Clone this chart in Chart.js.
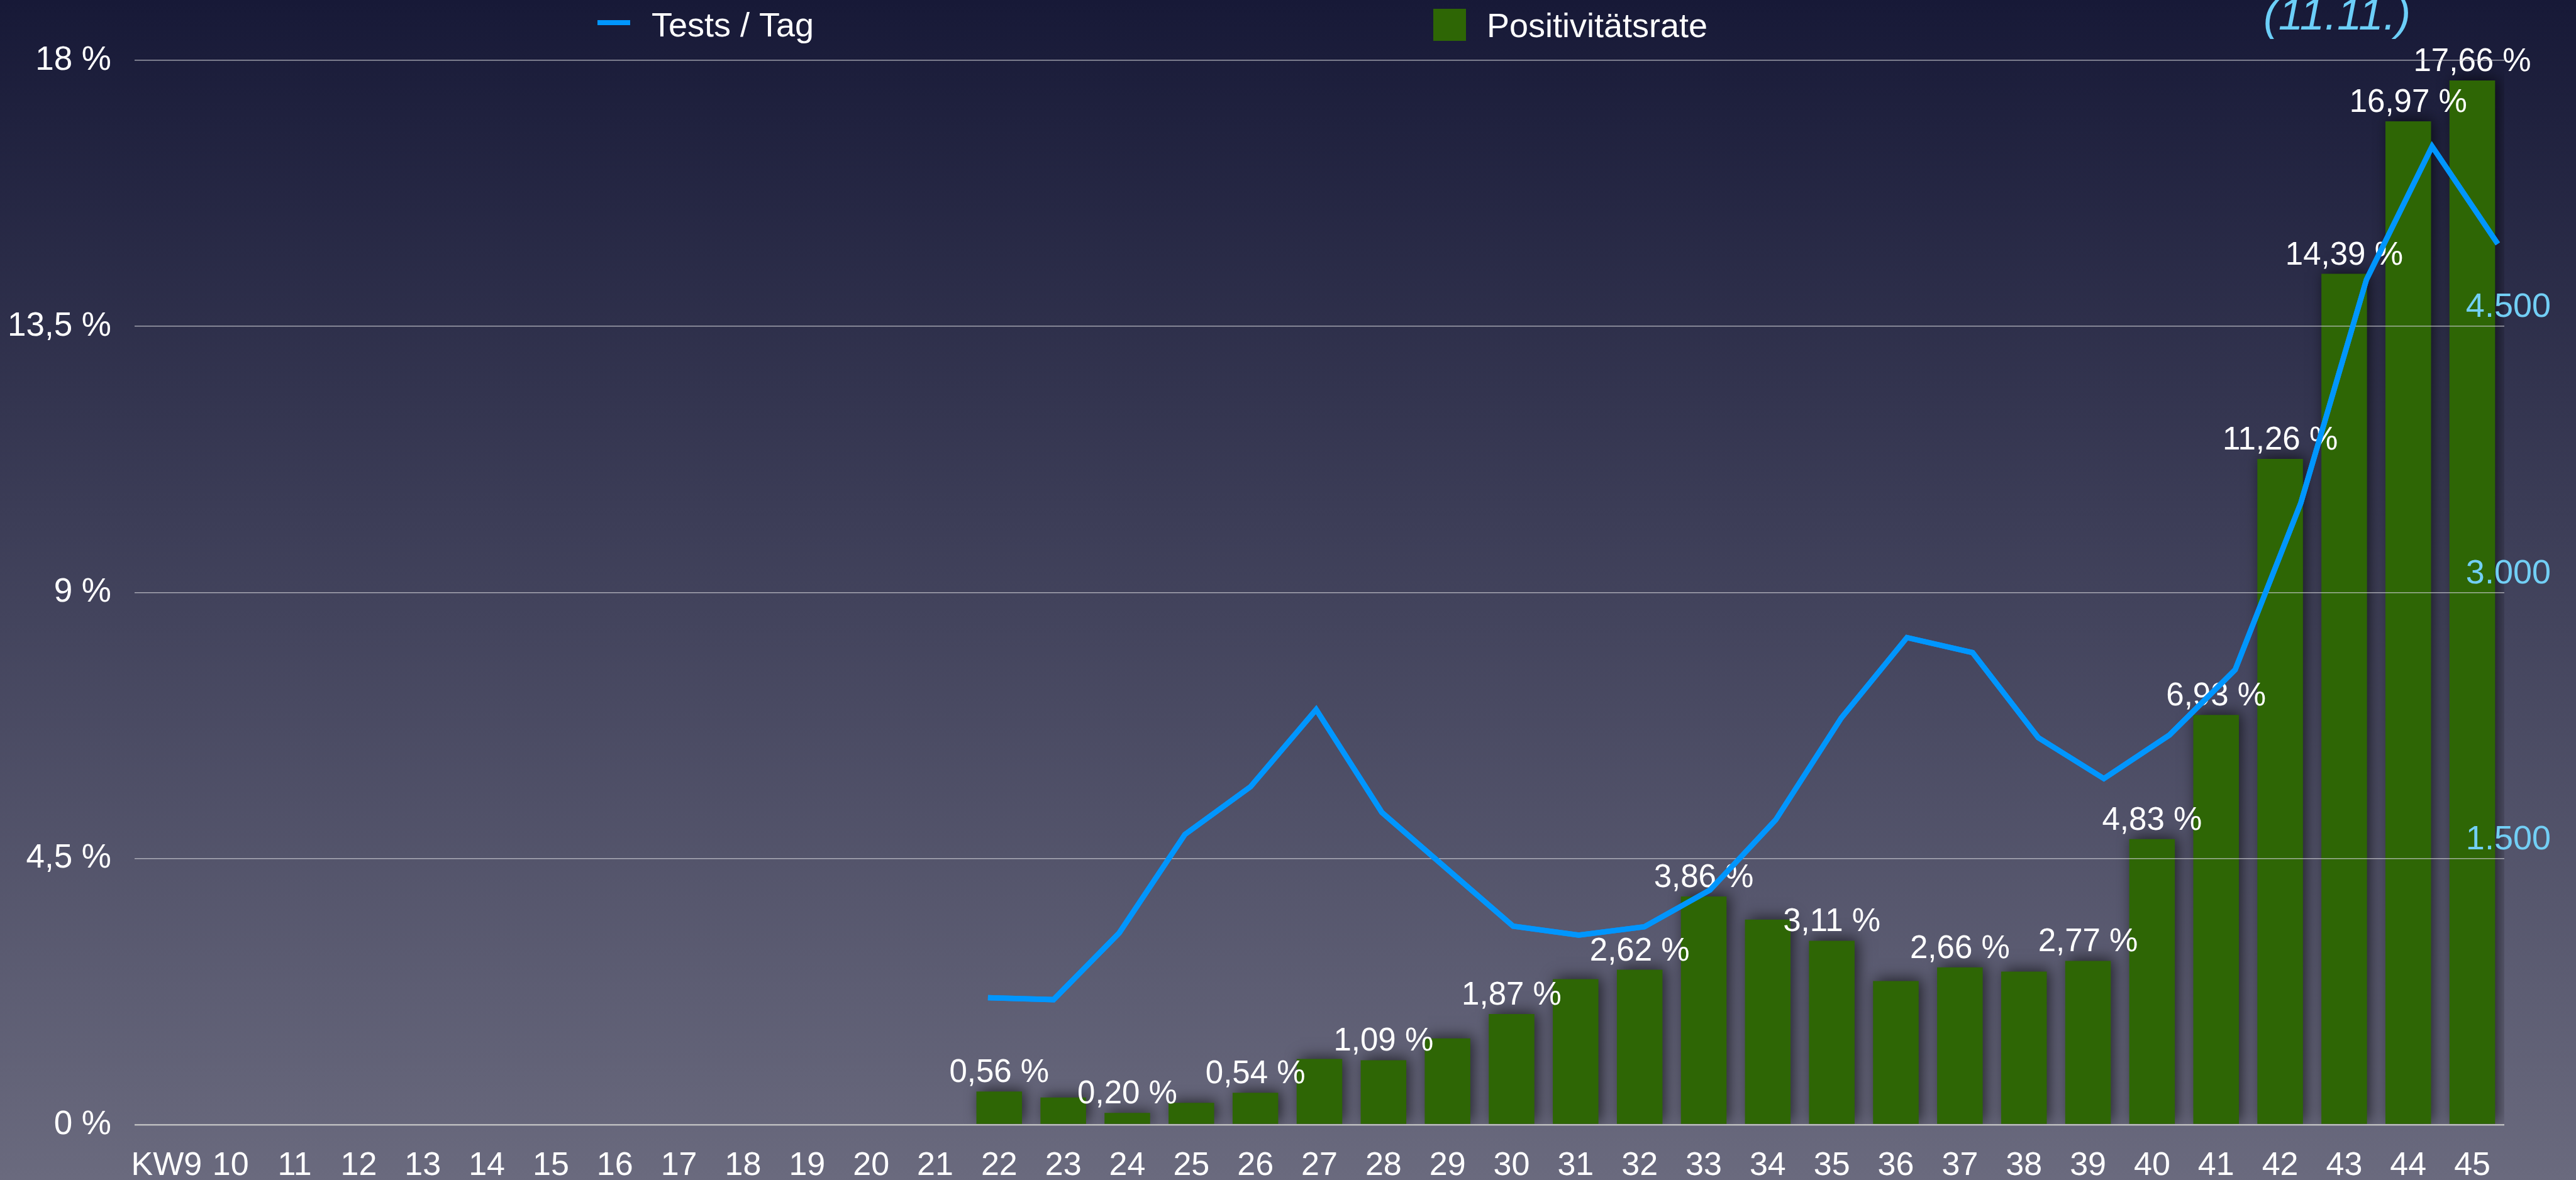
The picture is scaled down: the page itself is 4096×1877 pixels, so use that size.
<!DOCTYPE html>
<html>
<head>
<meta charset="utf-8">
<title>Tests / Tag und Positivitätsrate</title>
<script src="https://cdn.jsdelivr.net/npm/chart.js@4.4.0/dist/chart.umd.min.js"></script>
<style>
  html, body { margin: 0; padding: 0; }
  body {
    width: 4096px;
    height: 1877px;
    overflow: hidden;
    background: linear-gradient(to bottom, #171937 0%, #3c3d57 44%, #6a6a7e 100%);
  }
  #chart { display: block; }
</style>
</head>
<body>
<canvas id="chart" width="4096" height="1877"></canvas>
<script>
// Kalenderwochen
var weeks = ['KW9', '10', '11', '12', '13', '14', '15', '16', '17', '18', '19', '20', '21',
  '22', '23', '24', '25', '26', '27', '28', '29', '30', '31', '32', '33',
  '34', '35', '36', '37', '38', '39', '40', '41', '42', '43', '44', '45'];

// Positivitätsrate in % (KW9 - KW45)
var positivity = [null, null, null, null, null, null, null, null, null, null, null, null, null,
  0.56, 0.46, 0.20, 0.37, 0.54, 1.11, 1.09, 1.46, 1.87, 2.46, 2.62, 3.86,
  3.47, 3.11, 2.43, 2.66, 2.59, 2.77, 4.83, 6.93, 11.26, 14.39, 16.97, 17.66];

// Balken mit Beschriftung
var labelledWeeks = ['22', '24', '26', '28', '30', '32', '33', '35', '37', '39',
  '40', '41', '42', '43', '44', '45'];

// Tests pro Tag
var testWeeks = [22, 23, 24, 25, 26, 27, 28, 29, 30, 31, 32, 33,
  34, 35, 36, 37, 38, 39, 40, 41, 42, 43, 44, 45];
var testsPerDay = [716, 705, 1081, 1636, 1905, 2340, 1761, 1440, 1119, 1069, 1116, 1323,
  1718, 2293, 2746, 2661, 2182, 1951, 2197, 2565, 3505, 4764, 5515, 4966];

// Achsen
var yTicks = [0, 4.5, 9, 13.5, 18];
var rightTicks = [1500, 3000, 4500];
var dateNote = '(11.11.)';

var FONT = '"Helvetica Neue", Helvetica, "Liberation Sans", Arial, sans-serif';

function pct(v) {
  return String(v).replace('.', ',') + ' %';
}
function thousands(v) {
  return String(v).replace(/\B(?=(\d{3})+(?!\d))/g, '.');
}

// Schatten + Werte an den Balken
var barDecor = {
  id: 'barDecor',
  beforeDatasetDraw: function (chart, args) {
    if (args.meta.type !== 'bar') return;
    var c = chart.ctx;
    c.save();
    c.shadowColor = 'rgba(0, 0, 0, 0.62)';
    c.shadowBlur = 22;
    c.shadowOffsetX = 5;
    c.shadowOffsetY = -3;
  },
  afterDatasetDraw: function (chart, args) {
    if (args.meta.type !== 'bar') return;
    var c = chart.ctx;
    c.restore();
    c.save();
    c.font = '51px ' + FONT;
    c.fillStyle = '#ffffff';
    c.textAlign = 'center';
    c.textBaseline = 'alphabetic';
    args.meta.data.forEach(function (bar, i) {
      if (labelledWeeks.indexOf(weeks[i]) < 0 || positivity[i] == null) return;
      c.fillText(positivity[i].toFixed(2).replace('.', ',') + ' %', bar.x, bar.y - 15);
    });
    c.restore();
  }
};

// Linie über dem Gitter, Legende, rechte Achse, Datum
var overlay = {
  id: 'overlay',
  afterDraw: function (chart) {
    var c = chart.ctx;
    chart.getDatasetMeta(0).controller.draw();

    var line = chart.data.datasets[0];
    var bars = chart.data.datasets[1];
    c.save();
    c.font = '54px ' + FONT;
    c.textBaseline = 'alphabetic';
    c.textAlign = 'left';

    c.fillStyle = line.borderColor;
    c.fillRect(950, 32, 52, 8);
    c.fillStyle = '#ffffff';
    c.fillText(line.label, 1036, 58);

    c.fillStyle = bars.backgroundColor;
    c.fillRect(2279, 14, 52, 51);
    c.fillStyle = '#ffffff';
    c.fillText(bars.label, 2364, 59);

    var yr = chart.scales.yTests;
    c.fillStyle = '#72cff5';
    c.textAlign = 'right';
    rightTicks.forEach(function (v) {
      c.fillText(thousands(v), 4056, yr.getPixelForValue(v) - 15);
    });

    c.font = 'italic 71px ' + FONT;
    c.fillStyle = '#6ccff8';
    c.textAlign = 'left';
    c.fillText(dateNote, 3599, 47);
    c.restore();
  }
};

var ctx = document.getElementById('chart').getContext('2d');
var chart = new Chart(ctx, {
  type: 'bar',
  data: {
    labels: weeks,
    datasets: [{
      type: 'line',
      label: 'Tests / Tag',
      data: testWeeks.map(function (w, i) { return {x: w, y: testsPerDay[i]}; }),
      xAxisID: 'xLine',
      yAxisID: 'yTests',
      borderColor: '#0096fe',
      borderWidth: 8.5,
      borderJoinStyle: 'miter',
      pointRadius: 0,
      tension: 0,
      fill: false,
      order: 0
    }, {
      type: 'bar',
      label: 'Positivitätsrate',
      data: positivity,
      xAxisID: 'x',
      yAxisID: 'y',
      backgroundColor: '#2e6605',
      barPercentage: 0.712,
      categoryPercentage: 1,
      grouped: false,
      order: 1
    }]
  },
  options: {
    responsive: false,
    animation: false,
    layout: { padding: { top: 96, right: 114, left: 0, bottom: 0 } },
    plugins: {
      legend: { display: false },
      tooltip: { enabled: false }
    },
    scales: {
      x: {
        type: 'category',
        axis: 'x',
        position: 'bottom',
        offset: true,
        grid: { display: false },
        border: { display: false },
        ticks: {
          color: '#ffffff',
          font: { family: FONT, size: 52 },
          padding: 26,
          maxRotation: 0,
          autoSkip: false
        },
        afterFit: function (s) { s.height = 88; }
      },
      xLine: {
        type: 'linear',
        axis: 'x',
        position: 'bottom',
        display: false,
        offset: false,
        grid: { offset: false },
        bounds: 'data',
        min: 9,
        max: 45.1
      },
      y: {
        type: 'linear',
        position: 'left',
        min: 0,
        max: 18,
        afterBuildTicks: function (s) {
          s.ticks = yTicks.map(function (v) { return {value: v}; });
        },
        grid: {
          z: 1,
          drawTicks: false,
          color: function (c) { return c.tick && c.tick.value === 0 ? '#bdbdbf' : 'rgba(206, 206, 212, 0.72)'; },
          lineWidth: function (c) { return c.tick && c.tick.value === 0 ? 2.5 : 1.6; }
        },
        border: { display: false },
        ticks: {
          color: '#ffffff',
          font: { family: FONT, size: 53 },
          padding: 37,
          callback: function (v) { return pct(v); }
        },
        afterFit: function (s) { s.width = 214; }
      },
      yTests: {
        type: 'linear',
        axis: 'y',
        position: 'right',
        display: false,
        min: 0,
        max: 6000
      }
    }
  },
  plugins: [barDecor, overlay]
});
</script>
</body>
</html>
